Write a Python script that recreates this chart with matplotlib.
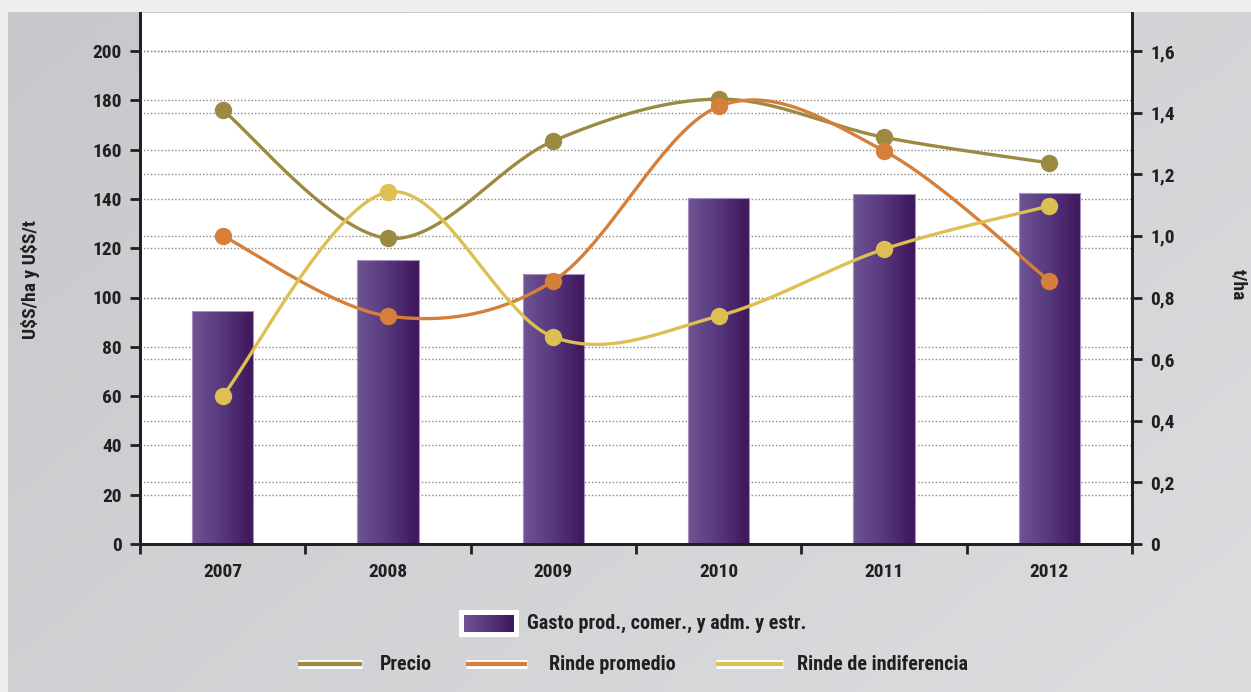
import numpy as np
import matplotlib
matplotlib.use("Agg")
import matplotlib.pyplot as plt
from matplotlib.patches import Rectangle
from matplotlib.colors import LinearSegmentedColormap
from matplotlib import font_manager

# ---------------- data ----------------
years = ["2007", "2008", "2009", "2010", "2011", "2012"]
gasto = [94.5, 115.2, 109.5, 140.4, 142.0, 142.4]          # U$S/ha (left axis)
precio = [176.0, 124.0, 163.5, 180.5, 165.0, 154.6]        # U$S/t (left axis)
rinde_promedio = [1.00, 0.74, 0.854, 1.42, 1.276, 0.854]   # t/ha (right axis)
rinde_indif = [0.48, 1.142, 0.672, 0.74, 0.957, 1.097]     # t/ha (right axis)
left_ticks = [0, 20, 40, 60, 80, 100, 120, 140, 160, 180, 200]
right_ticks = [0, 0.2, 0.4, 0.6, 0.8, 1.0, 1.2, 1.4, 1.6]
right_labels = ["0", "0,2", "0,4", "0,6", "0,8", "1,0", "1,2", "1,4", "1,6"]

# ---------------- style ----------------
avail = {f.name for f in font_manager.fontManager.ttflist}
fam = [f for f in ["Liberation Sans Narrow", "Roboto Condensed", "DejaVu Sans"] if f in avail] or ["DejaVu Sans"]
plt.rcParams['font.family'] = fam
plt.rcParams['font.weight'] = 'bold'
TXT = "#231f20"
C_PRECIO = "#9c8a42"
C_RP = "#d67f3a"
C_RI = "#ddbf52"
FS = 14
FSL = 14.5

W, H = 1251, 692
fig = plt.figure(figsize=(W / 100, H / 100), dpi=100)
fig.patch.set_facecolor("#eeeeee")

# background gradient panel
bg = fig.add_axes([8 / W, 0, 1 - 8 / W, 1 - 12 / H], zorder=-10)
gx = np.linspace(0, 1, 200)
gy = np.linspace(0, 1, 120)
GX, GY = np.meshgrid(gx, gy)
t = (GX * 0.6 + GY * 0.4)
c0 = np.array([0xc6, 0xc8, 0xcb]) / 255
c1 = np.array([0xdc, 0xdd, 0xdf]) / 255
img = c0[None, None, :] * (1 - t[..., None]) + c1[None, None, :] * t[..., None]
bg.imshow(img, aspect="auto", extent=[0, 1, 0, 1], origin="upper")
bg.set_axis_off()

# main axes
x0, x1, yb, yt = 140, 1132, 544, 13
ax = fig.add_axes([x0 / W, (H - yb) / H, (x1 - x0) / W, (yb - yt) / H])
ax.set_facecolor("white")
ymax = 200 * (yb - yt) / (yb - 51)
ratio = 1.6 / 200
ax.set_xlim(-0.5, 5.5)
ax.set_ylim(0, ymax)
ax2 = ax.twinx()
ax2.set_ylim(0, ymax * ratio)

xs = np.arange(len(years))

# gridlines (left and right scales)
for v in left_ticks[1:]:
    ax.axhline(v, color="#8a8a8a", lw=1.0, ls=(0, (1, 1.5)), zorder=0.5)
for v in right_ticks[1:]:
    ax.axhline(v / ratio, color="#8a8a8a", lw=1.0, ls=(0, (1, 1.5)), zorder=0.5)

# bars with horizontal gradient
bars = ax.bar(xs, gasto, width=0.37, color="none", edgecolor="#a592bd", lw=0.8, zorder=2)
grad = np.linspace(0, 1, 64)[None, :]
cmap = LinearSegmentedColormap.from_list("p", ["#6f5494", "#56377c", "#3f165a"])
for b in bars:
    bx, by, bw, bh = b.get_x(), b.get_y(), b.get_width(), b.get_height()
    im = ax.imshow(grad, cmap=cmap, aspect="auto", extent=[bx, bx + bw, by, by + bh],
                   zorder=1.5, interpolation="bilinear")
    im.set_clip_path(b)
ax.set_xlim(-0.5, 5.5)
ax.set_ylim(0, ymax)


def smooth(xv, yv, n=40):
    P = np.column_stack([xv, yv]).astype(float)
    out = []
    m = len(P)
    for i in range(m - 1):
        p0 = P[max(i - 1, 0)]
        p1 = P[i]
        p2 = P[i + 1]
        p3 = P[min(i + 2, m - 1)]
        c1 = p1 + (p2 - p0) / 6
        c2 = p2 - (p3 - p1) / 6
        tt = np.linspace(0, 1, n)[:, None]
        seg = ((1 - tt) ** 3) * p1 + 3 * ((1 - tt) ** 2) * tt * c1 + 3 * (1 - tt) * tt ** 2 * c2 + tt ** 3 * p2
        out.append(seg if i == 0 else seg[1:])
    s = np.vstack(out)
    return s[:, 0], s[:, 1]


ax2.set_zorder(ax.get_zorder() + 1)
ax2.patch.set_visible(False)
for vals, col, a in [(precio, C_PRECIO, ax), (rinde_promedio, C_RP, ax2), (rinde_indif, C_RI, ax2)]:
    sx, sy = smooth(xs, vals)
    a.plot(sx, sy, color=col, lw=2.4, zorder=3, solid_capstyle="round")
    a.plot(xs, vals, ls="none", marker="o", ms=11.5, color=col, zorder=4)

# axes styling
for a in (ax, ax2):
    a.spines["top"].set_visible(False)
    for s in ["left", "right", "bottom"]:
        a.spines[s].set_color(TXT)
        a.spines[s].set_linewidth(2)
ax.set_yticks(left_ticks)
ax.set_yticklabels([str(v) for v in left_ticks], fontsize=FS, fontweight="bold", color=TXT)
ax.tick_params(axis="y", length=7, width=2, color=TXT, pad=6)
ax2.set_yticks(right_ticks)
ax2.set_yticklabels(right_labels, fontsize=FS, fontweight="bold", color=TXT)
ax2.tick_params(axis="y", length=7, width=2, color=TXT, pad=6)
ax.set_xticks(xs)
ax.set_xticklabels(years, fontsize=FS, fontweight="bold", color=TXT)
ax.tick_params(axis="x", which="major", length=0, pad=14)
ax.set_xticks(np.arange(-0.5, 6, 1), minor=True)
ax.tick_params(axis="x", which="minor", length=7, width=2, color=TXT)
ax2.set_xlim(-0.5, 5.5)

fig.text(30 / W, 1 - 280 / H, "U\\$S/ha y U\\$S/t", rotation=90, ha="center", va="center",
         fontsize=FS, fontweight="bold", color=TXT)
fig.text(1238 / W, 1 - 285 / H, "t/ha", rotation=270, ha="center", va="center",
         fontsize=FS, fontweight="bold", color=TXT)

# ---------------- legend (manual) ----------------
lg = fig.add_axes([0, 0, 1, 1], zorder=5)
lg.set_axis_off()
lg.add_patch(Rectangle((459, 610), 60, 27, facecolor="white", edgecolor="none"))
lg.imshow(grad, cmap=cmap, aspect="auto", extent=[464, 514, 632, 615], zorder=2)
lg.set_xlim(0, W)
lg.set_ylim(H, 0)
lg.text(527, 623, "Gasto prod., comer., y adm. y estr.", fontsize=FSL, fontweight="bold",
        color=TXT, va="center", ha="left")
for (xa, xb, xt, col, lab) in [(298, 362, 380, C_PRECIO, "Precio"),
                               (466, 527, 549, C_RP, "Rinde promedio"),
                               (716, 783, 797, C_RI, "Rinde de indiferencia")]:
    lg.plot([xa, xb], [664, 664], color="white", lw=6.5, solid_capstyle="butt")
    lg.plot([xa, xb], [664, 664], color=col, lw=3, solid_capstyle="butt")
    lg.text(xt, 664, lab, fontsize=FSL, fontweight="bold", color=TXT, va="center", ha="left")

fig.savefig("out.png", dpi=100, facecolor=fig.get_facecolor())
